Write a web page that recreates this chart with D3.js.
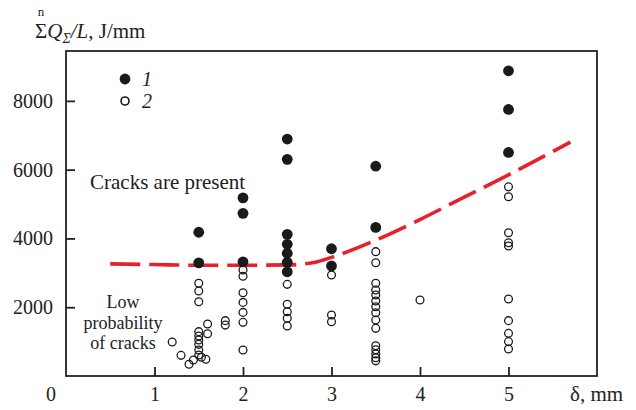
<!DOCTYPE html>
<html lang="en">

<head>
    <meta charset="UTF-8">
    <title>cracks</title>
    <style>
        body {
            margin: 0;
            background: #fff;
        }

        text {
            font-family: "Liberation Serif", "Times New Roman", serif;
            fill: #222;
        }
    </style>
</head>

<body>

    <script src="https://d3js.org/d3.v7.min.js"></script>

    <div id="chart"></div>
    <script>
        // values: [delta mm, sum Q / L in J/mm]
        var cracked = [
            [1.5, 4180], [1.5, 3290],
            [2, 5180], [2, 4730], [2, 3320],
            [2.5, 6890], [2.5, 6300], [2.5, 4120], [2.5, 3830], [2.5, 3570], [2.5, 3305], [2.5, 3030],
            [3, 3700], [3, 3200],
            [3.5, 6100], [3.5, 4320],
            [5, 8875], [5, 7750], [5, 6500]
        ];

        var noCracks = [
            [1.2, 990], [1.3, 600], [1.39, 340], [1.44, 465],
            [1.5, 2695], [1.5, 2470], [1.5, 2160], [1.5, 1290], [1.5, 1160], [1.5, 1045],
            [1.5, 920], [1.5, 755], [1.5, 610], [1.53, 545], [1.58, 485],
            [1.6, 1510], [1.6, 1230], [1.8, 1610], [1.8, 1480],
            [2, 3080], [2, 2900], [2, 2420], [2, 2140], [2, 1850], [2, 1560], [2, 755],
            [2.5, 2665], [2.5, 2085], [2.5, 1870], [2.5, 1680], [2.5, 1455],
            [3, 2935], [3, 1775], [3, 1580],
            [3.5, 3615], [3.5, 3295], [3.5, 2695], [3.5, 2500], [3.5, 2355], [3.5, 2180],
            [3.5, 2015], [3.5, 1840], [3.5, 1625], [3.5, 1385],
            [3.5, 880], [3.5, 760], [3.5, 640], [3.5, 530], [3.5, 440],
            [4, 2210],
            [5, 5500], [5, 5210], [5, 4165], [5, 3875], [5, 3780],
            [5, 2240], [5, 1610], [5, 1240], [5, 1000], [5, 785]
        ];

        // dashed boundary between the two regions
        var boundary = [
            [0.5, 3260], [1, 3240], [1.5, 3220], [2, 3220], [2.5, 3230], [2.8, 3300],
            [3, 3450], [3.5, 3950], [4, 4550], [4.5, 5200], [5, 5850], [5.7, 6800]
        ];

        var xTicks = [1, 2, 3, 4, 5];
        var yTicks = [2000, 4000, 6000, 8000];
        var legendLabels = ["1", "2"];

        var width = 636, height = 410;
        var plotLeft = 66, plotRight = 597, plotTop = 51, plotBottom = 376;

        var svg = d3.select("#chart")
            .append("svg")
            .attr("width", width)
            .attr("height", height);

        var x = d3.scaleLinear().domain([0, 6]).range([plotLeft, plotRight]);
        var y = d3.scaleLinear().domain([0, 9450]).range([plotBottom, plotTop]);

        // axes, ticks pointing inward
        var xAxis = svg.append("g")
            .attr("transform", "translate(0," + plotBottom + ")")
            .call(d3.axisBottom(x).tickValues(xTicks).tickFormat(d3.format("d"))
                .tickSize(-9).tickSizeOuter(0).tickPadding(11));
        var yAxis = svg.append("g")
            .attr("transform", "translate(" + plotLeft + ",0)")
            .call(d3.axisLeft(y).tickValues(yTicks).tickFormat(d3.format("d"))
                .tickSize(-9).tickSizeOuter(0).tickPadding(13));

        [xAxis, yAxis].forEach(function (g) {
            g.select(".domain").remove();
            g.selectAll("line").attr("stroke", "#222").attr("stroke-width", 1.8);
            g.selectAll("text")
                .style("font-family", "'Liberation Serif', serif")
                .style("font-size", "20px")
                .attr("fill", "#222");
        });

        svg.append("text")
            .attr("x", 51).attr("y", 401)
            .attr("text-anchor", "middle")
            .style("font-size", "20px")
            .text("0");

        // frame
        svg.append("rect")
            .attr("x", plotLeft).attr("y", plotTop)
            .attr("width", plotRight - plotLeft).attr("height", plotBottom - plotTop)
            .attr("fill", "none")
            .attr("stroke", "#222")
            .attr("stroke-width", 1.8);

        // boundary line
        svg.append("path")
            .datum(boundary)
            .attr("fill", "none")
            .attr("stroke", "#e8202a")
            .attr("stroke-width", 3.6)
            .attr("stroke-dasharray", "30,9")
            .attr("d", d3.line()
                .curve(d3.curveMonotoneX)
                .x(function (d) { return x(d[0]) })
                .y(function (d) { return y(d[1]) })
            );

        svg.selectAll(".open")
            .data(noCracks)
            .enter()
            .append("circle")
            .attr("cx", function (d) { return x(d[0]) })
            .attr("cy", function (d) { return y(d[1]) })
            .attr("r", 3.9)
            .attr("fill", "none")
            .attr("stroke", "#1a1a1a")
            .attr("stroke-width", 1.3);

        svg.selectAll(".filled")
            .data(cracked)
            .enter()
            .append("circle")
            .attr("cx", function (d) { return x(d[0]) })
            .attr("cy", function (d) { return y(d[1]) })
            .attr("r", 5.4)
            .attr("fill", "#1a1a1a");

        // legend
        var legend = svg.append("g").attr("transform", "translate(125,79)");
        legend.append("circle").attr("cx", 0).attr("cy", 0).attr("r", 5.4).attr("fill", "#1a1a1a");
        legend.append("circle").attr("cx", 0).attr("cy", 22).attr("r", 4)
            .attr("fill", "none").attr("stroke", "#1a1a1a").attr("stroke-width", 1.6);
        legend.selectAll("text")
            .data(legendLabels)
            .enter()
            .append("text")
            .attr("x", 17)
            .attr("y", function (d, i) { return 7 + i * 22 })
            .style("font-size", "20px")
            .style("font-style", "italic")
            .text(function (d) { return d });

        // annotations
        svg.append("text")
            .attr("x", 90).attr("y", 189)
            .style("font-size", "21px")
            .text("Cracks are present");

        var low = svg.append("text")
            .attr("text-anchor", "middle")
            .style("font-size", "18px");
        ["Low", "probability", "of cracks"].forEach(function (t, i) {
            low.append("tspan").attr("x", 123).attr("y", 308 + i * 20.5).text(t);
        });

        // axis titles
        var yTitle = svg.append("text")
            .attr("x", 35).attr("y", 38)
            .style("font-size", "21px");
        yTitle.append("tspan").text("Σ");
        yTitle.append("tspan").style("font-style", "italic").text("Q");
        yTitle.append("tspan").attr("dy", 5).style("font-size", "14px").style("font-style", "italic").text("Σ");
        yTitle.append("tspan").attr("dy", -5).style("font-style", "italic").text("/L");
        yTitle.append("tspan").text(", J/mm");

        svg.append("text")
            .attr("x", 41).attr("y", 16)
            .attr("text-anchor", "middle")
            .style("font-size", "13px")
            .text("n");

        svg.append("text")
            .attr("x", 570).attr("y", 401)
            .style("font-size", "21px")
            .text("δ, mm");
    </script>
</body>

</html>
